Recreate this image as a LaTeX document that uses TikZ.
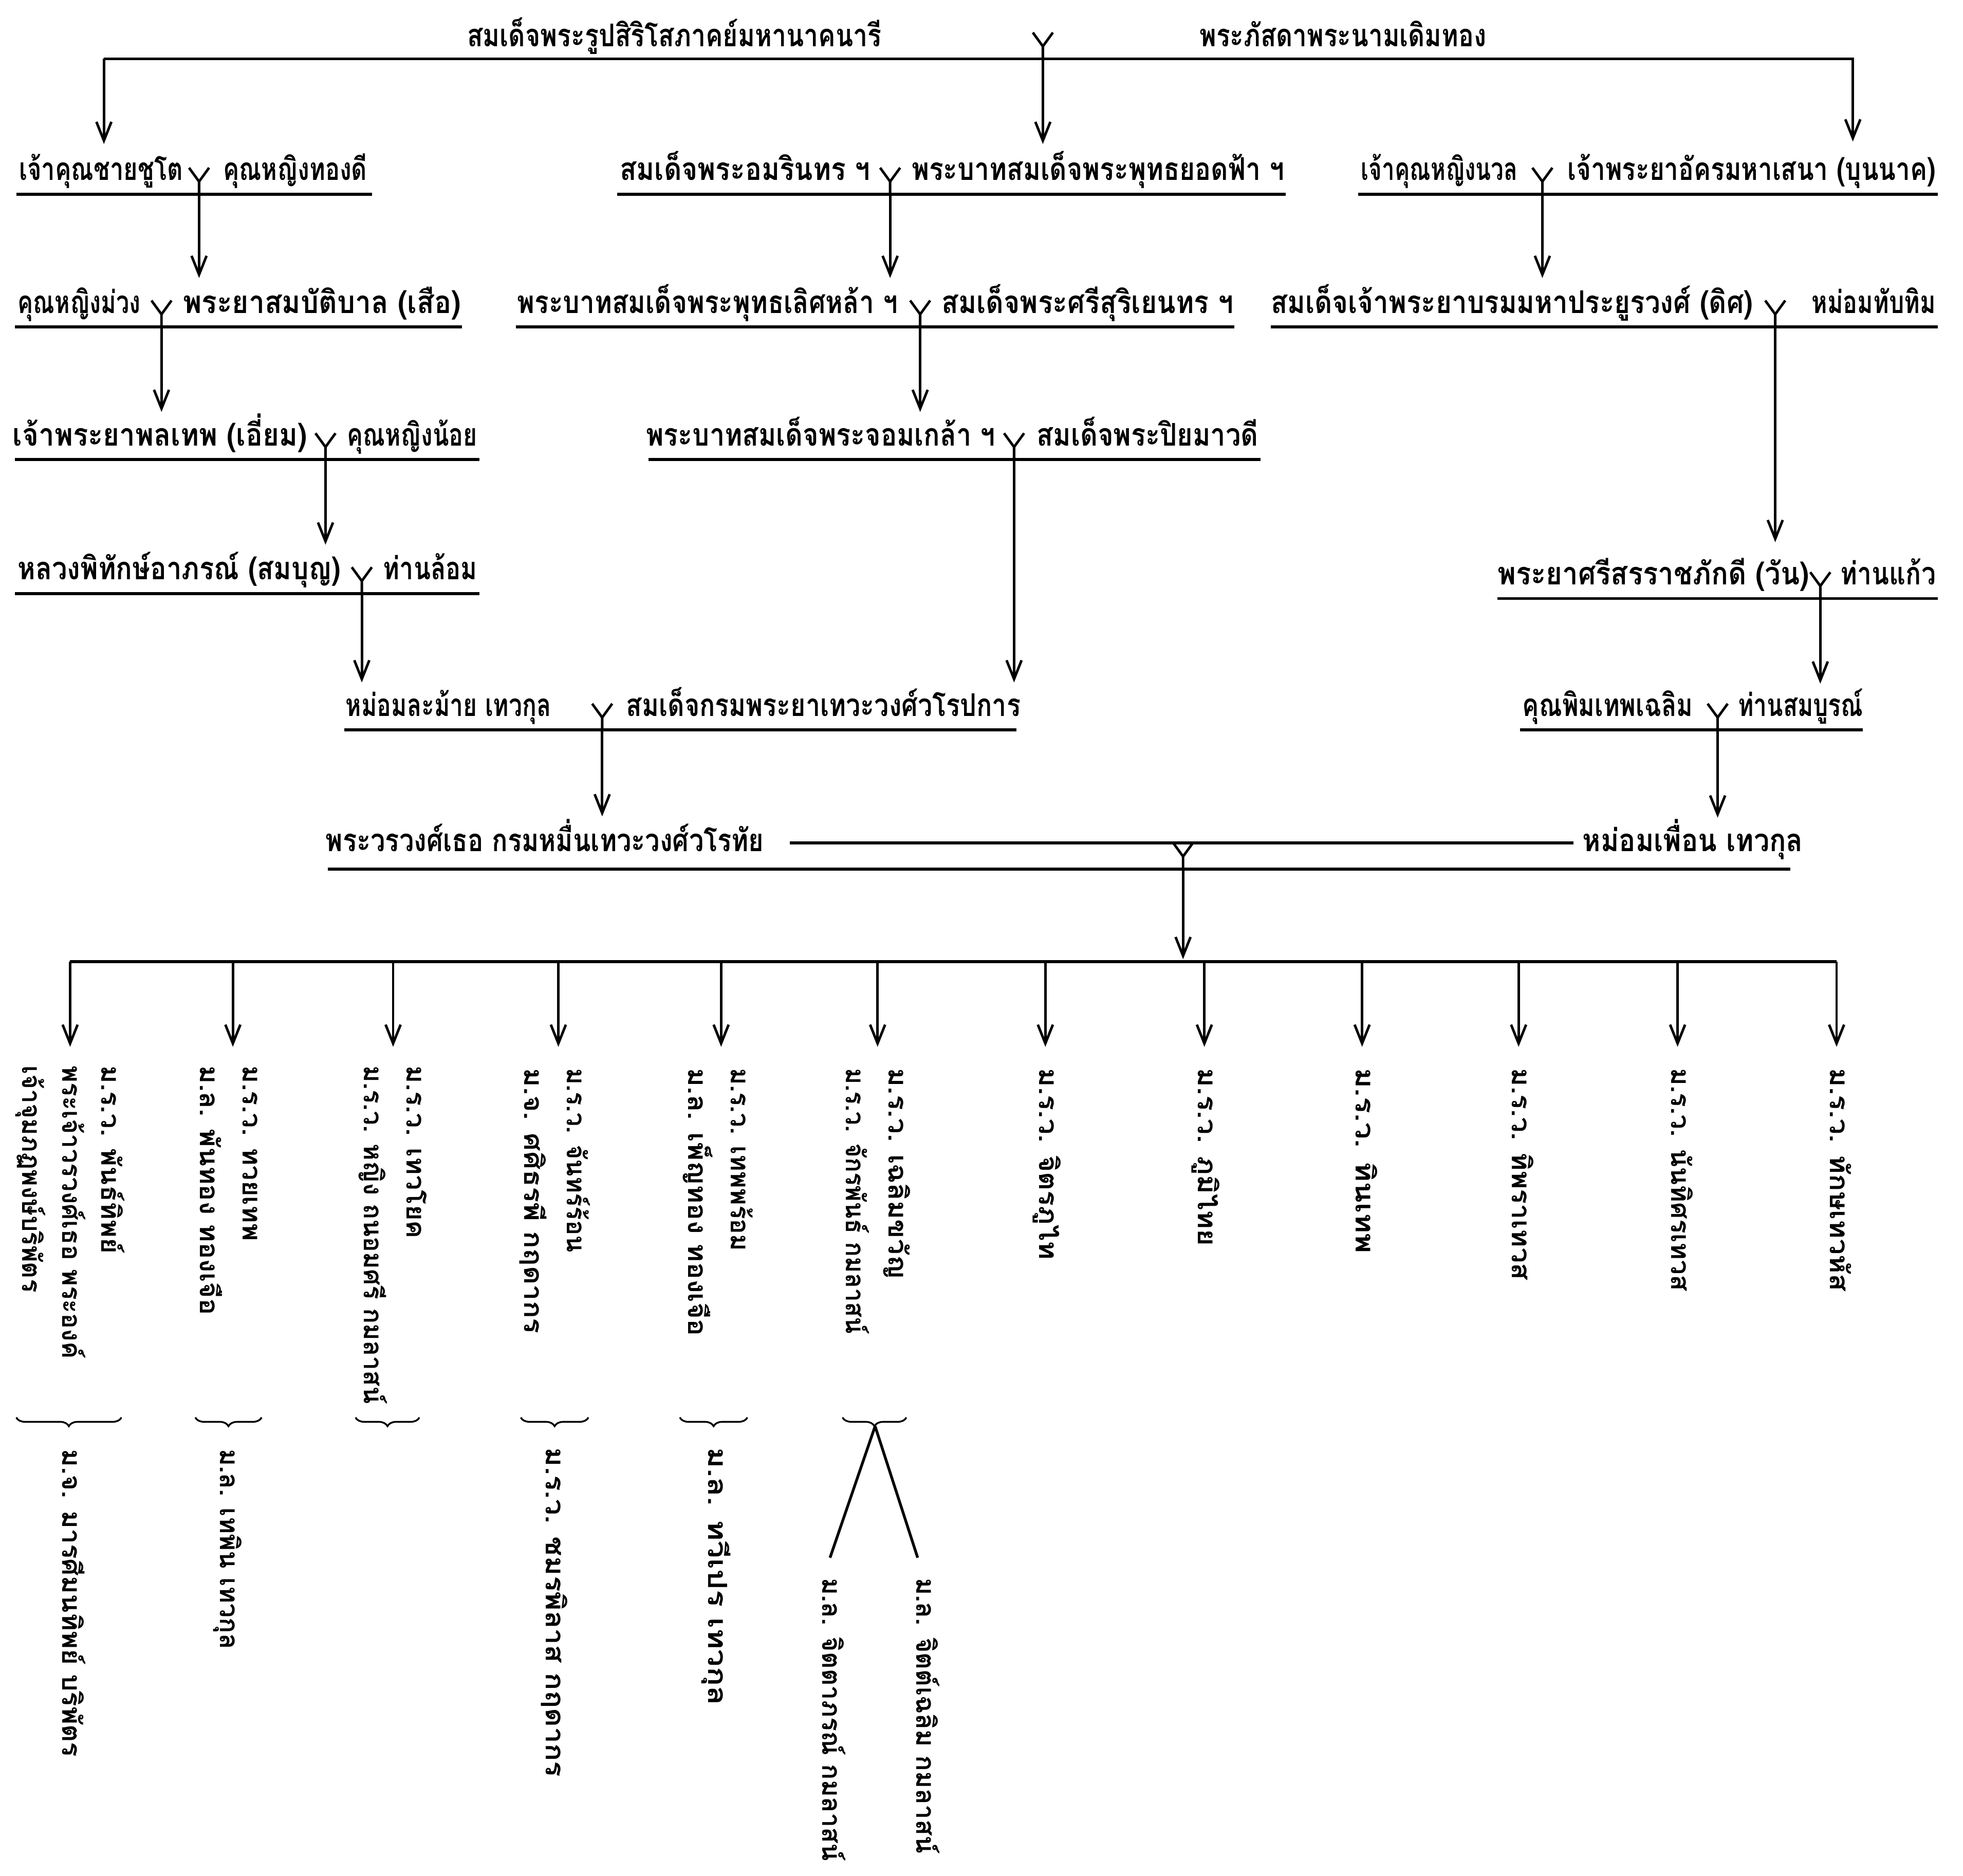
\documentclass[tikz,border=0pt]{standalone}
\usepackage{fontspec}
\usepackage{graphicx}
\usetikzlibrary{arrows.meta,decorations.pathreplacing}
\newfontfamily\thai[Script=Thai]{Loma}
\newcommand\hfont{\thai\bfseries\fontsize{25}{30}\selectfont}
\newcommand\vfont{\thai\bfseries\fontsize{21}{25}\selectfont}
\newcommand\tw[2]{\resizebox{#1pt}{\height}{#2}}
\newcommand\ymark[3]{%
  \coordinate (#1) at (#2,#3);
  \draw[ysym] (#2-8,#3-21) -- (#2,#3-10) -- (#2+8,#3-21) (#2,#3-10) -- (#1);}
\tikzset{
  hline/.style={line width=2.4pt},
  arr/.style={line width=2pt,-{Straight Barb[length=15pt,width=12pt,line width=2pt]}},
  ysym/.style={line width=2pt},
  hname/.style={inner sep=0pt,anchor=base west,font=\hfont},
  vname/.style={inner sep=0pt,anchor=base west,rotate=-90,font=\vfont},
  brc/.style={decorate,decoration={brace,mirror,amplitude=7pt},line width=1.4pt},
}
\begin{document}
\begin{tikzpicture}[x=1pt,y=-1pt]
\useasboundingbox[fill=white] (0,0) rectangle (1568,1498);

% ---------- row 0
\node[hname] (r0a) at (373,37) {\tw{331}{สมเด็จพระรูปสิริโสภาคย์มหานาคนารี}};
\node[hname] (r0b) at (958,37) {\tw{229}{พระภัสดาพระนามเดิมทอง}};
\coordinate (l0a) at (83,47); \coordinate (l0b) at (1481,47);
\draw[hline] (l0a) -- (l0b);
\ymark{y0}{833}{47}
\coordinate (t0a) at (83,115); \coordinate (t0b) at (833,115); \coordinate (t0c) at (1480,113);
\draw[arr] (l0a) -- (t0a);
\draw[arr] (y0) -- (t0b);
\draw[arr] (1480,47) -- (t0c);

% ---------- row 1 (underline 155)
\node[hname] (r1a) at (15,144) {\tw{131}{เจ้าคุณชายชูโต}};
\node[hname] (r1b) at (178,144) {\tw{115}{คุณหญิงทองดี}};
\draw[hline] (13,155) -- (297,155);
\ymark{y1a}{159}{155}
\node[hname] (r1c) at (495,144) {\tw{200}{สมเด็จพระอมรินทร ฯ}};
\node[hname] (r1d) at (728,144) {\tw{298}{พระบาทสมเด็จพระพุทธยอดฟ้า ฯ}};
\draw[hline] (493,155) -- (1027,155);
\ymark{y1b}{711}{155}
\node[hname] (r1e) at (1087,144) {\tw{125}{เจ้าคุณหญิงนวล}};
\node[hname] (r1f) at (1252,144) {\tw{294}{เจ้าพระยาอัครมหาเสนา (บุนนาค)}};
\draw[hline] (1085,155) -- (1548,155);
\ymark{y1c}{1232}{155}
\coordinate (t1a) at (159,222); \coordinate (t1b) at (711,222); \coordinate (t1c) at (1232,222);
\draw[arr] (y1a) -- (t1a);
\draw[arr] (y1b) -- (t1b);
\draw[arr] (y1c) -- (t1c);

% ---------- row 2 (underline 261)
\node[hname] (r2a) at (14,250) {\tw{98}{คุณหญิงม่วง}};
\node[hname] (r2b) at (146,250) {\tw{222}{พระยาสมบัติบาล (เสือ)}};
\draw[hline] (12,261) -- (369,261);
\ymark{y2a}{129}{261}
\node[hname] (r2c) at (413,250) {\tw{304}{พระบาทสมเด็จพระพุทธเลิศหล้า ฯ}};
\node[hname] (r2d) at (752,250) {\tw{233}{สมเด็จพระศรีสุริเยนทร ฯ}};
\draw[hline] (412,261) -- (986,261);
\ymark{y2b}{735}{261}
\node[hname] (r2e) at (1015,250) {\tw{385}{สมเด็จเจ้าพระยาบรมมหาประยูรวงศ์ (ดิศ)}};
\node[hname] (r2f) at (1447,250) {\tw{99}{หม่อมทับทิม}};
\draw[hline] (1015,261) -- (1548,261);
\ymark{y2c}{1418}{261}
\coordinate (t2a) at (129,329); \coordinate (t2b) at (735,329); \coordinate (t2c) at (1418,433);
\draw[arr] (y2a) -- (t2a);
\draw[arr] (y2b) -- (t2b);
\draw[arr] (y2c) -- (t2c);

% ---------- row 3 (underline 367)
\node[hname] (r3a) at (10,356) {\tw{235}{เจ้าพระยาพลเทพ (เอี่ยม)}};
\node[hname] (r3b) at (277,356) {\tw{104}{คุณหญิงน้อย}};
\draw[hline] (12,367) -- (383,367);
\ymark{y3a}{260}{367}
\node[hname] (r3c) at (516,356) {\tw{279}{พระบาทสมเด็จพระจอมเกล้า ฯ}};
\node[hname] (r3d) at (828,356) {\tw{177}{สมเด็จพระปิยมาวดี}};
\draw[hline] (518,367) -- (1007,367);
\ymark{y3b}{810}{367}
\coordinate (t3a) at (260,435); \coordinate (t3b) at (810,545);
\draw[arr] (y3a) -- (t3a);
\draw[arr] (y3b) -- (t3b);

% ---------- row 4 (underline 474 / 478)
\node[hname] (r4a) at (14,463) {\tw{258}{หลวงพิทักษ์อาภรณ์ (สมบุญ)}};
\node[hname] (r4b) at (306,463) {\tw{75}{ท่านล้อม}};
\draw[hline] (12,474) -- (383,474);
\ymark{y4a}{289}{474}
\node[hname] (r4c) at (1196,467) {\tw{249}{พระยาศรีสรราชภักดี (วัน)}};
\node[hname] (r4d) at (1470,467) {\tw{76}{ท่านแก้ว}};
\draw[hline] (1196,478) -- (1548,478);
\ymark{y4b}{1454}{478}
\coordinate (t4a) at (289,545); \coordinate (t4b) at (1454,546);
\draw[arr] (y4a) -- (t4a);
\draw[arr] (y4b) -- (t4b);

% ---------- row 5 (underline 583)
\node[hname] (r5a) at (276,572) {\tw{164}{หม่อมละม้าย เทวกุล}};
\node[hname] (r5b) at (500,572) {\tw{315}{สมเด็จกรมพระยาเทวะวงศ์วโรปการ}};
\draw[hline] (275,583) -- (812,583);
\ymark{y5a}{481}{583}
\node[hname] (r5c) at (1216,572) {\tw{136}{คุณพิมเทพเฉลิม}};
\node[hname] (r5d) at (1388,572) {\tw{100}{ท่านสมบูรณ์}};
\draw[hline] (1214,583) -- (1488,583);
\ymark{y5b}{1372}{583}
\coordinate (t5a) at (481,652); \coordinate (t5b) at (1372,653);
\draw[arr] (y5a) -- (t5a);
\draw[arr] (y5b) -- (t5b);

% ---------- row 6
\node[hname] (r6a) at (260,680) {\tw{350}{พระวรวงศ์เธอ กรมหมื่นเทวะวงศ์วโรทัย}};
\node[hname] (r6b) at (1264,680) {\tw{176}{หม่อมเพื่อน เทวกุล}};
\draw[hline] (631,673) -- (1257,673);
\draw[hline] (262,694) -- (1430,694);
\ymark{y6}{945}{694}
\coordinate (t6) at (945,766);
\draw[arr] (y6) -- (t6);

% ---------- row 7: children
\draw[hline] (56,768) -- (1467,768);
\foreach \n/\x in {1/56,2/186,3/314,4/446,5/576,6/701,7/835,8/962,9/1088,10/1213,11/1340,12/1467}{
  \coordinate (k\n) at (\x,768);
  \coordinate (kt\n) at (\x,836);
  \draw[arr] (k\n) -- (kt\n);
}

% child texts (vertical)
\node[vname] (c1a) at (81,851) {\tw{150}{ม.ร.ว. พันธ์ทิพย์}};
\node[vname] (c1b) at (50,851) {\tw{234}{พระเจ้าวรวงศ์เธอ พระองค์}};
\node[vname] (c1c) at (18,851) {\tw{181}{เจ้าจุมภฏพงษ์บริพัตร}};
\node[vname] (c2a) at (194,851) {\tw{140}{ม.ร.ว. ทวยเทพ}};
\node[vname] (c2b) at (160,851) {\tw{199}{ม.ล. พันทอง ทองเจือ}};
\node[vname] (c3a) at (325,851) {\tw{138}{ม.ร.ว. เทวโยค}};
\node[vname] (c3b) at (291,851) {\tw{270}{ม.ร.ว. หญิง ถนอมศรี กมลาสน์}};
\node[vname] (c4a) at (453,853) {\tw{147}{ม.ร.ว. จันทร์ร้อน}};
\node[vname] (c4b) at (419,853) {\tw{212}{ม.จ. ศศิธรพี กฤดากร}};
\node[vname] (c5a) at (584,853) {\tw{146}{ม.ร.ว. เทพพร้อม}};
\node[vname] (c5b) at (550,853) {\tw{214}{ม.ล. เพ็ญทอง ทองเจือ}};
\node[vname] (c6a) at (710,853) {\tw{168}{ม.ร.ว. เฉลิมขวัญ}};
\node[vname] (c6b) at (676,853) {\tw{212}{ม.ร.ว. จักรพันธ์ กมลาสน์}};
\node[vname] (c7) at (830,853) {\tw{153}{ม.ร.ว. จิตรภูไท}};
\node[vname] (c8) at (957,853) {\tw{142}{ม.ร.ว. ภูมิไทย}};
\node[vname] (c9) at (1083,853) {\tw{148}{ม.ร.ว. ทินเทพ}};
\node[vname] (c10) at (1208,853) {\tw{169}{ม.ร.ว. ทิพราเทวส}};
\node[vname] (c11) at (1335,853) {\tw{178}{ม.ร.ว. นันทิศรเทวส}};
\node[vname] (c12) at (1462,853) {\tw{178}{ม.ร.ว. ทักษเทวหัส}};

% braces
\draw[brc] (13,1132) -- (97,1132);   \coordinate (b1) at (55,1139);
\draw[brc] (156,1132) -- (209,1132); \coordinate (b2) at (182,1139);
\draw[brc] (284,1132) -- (335,1132); \coordinate (b3) at (310,1139);
\draw[brc] (416,1132) -- (470,1132); \coordinate (b4) at (443,1139);
\draw[brc] (543,1132) -- (597,1132); \coordinate (b5) at (570,1139);
\draw[brc] (673,1132) -- (724,1132); \coordinate (b6) at (699,1139);

% grandchildren
\node[vname] (g1) at (50,1157) {\tw{246}{ม.จ. มารศีมนทิพย์ บริพัตร}};
\node[vname] (g2) at (176,1157) {\tw{160}{ม.ล. เทพิน เทวกุล}};
\node[vname] (g4) at (436,1156) {\tw{263}{ม.ร.ว. ชมรพิลาส กฤดากร}};
\node[vname] (g5) at (566,1156) {\tw{206}{ม.ล. ทวีเปร เทวกุล}};
\coordinate (v6a) at (663,1244); \coordinate (v6b) at (733,1244);
\draw[line width=2.2pt] (b6) -- (v6a) (b6) -- (v6b);
\node[vname] (g6a) at (657,1260) {\tw{226}{ม.ล. จิตตาภรณ์ กมลาสน์}};
\node[vname] (g6b) at (732,1260) {\tw{220}{ม.ล. จิตต์เฉลิม กมลาสน์}};
\end{tikzpicture}
\end{document}
